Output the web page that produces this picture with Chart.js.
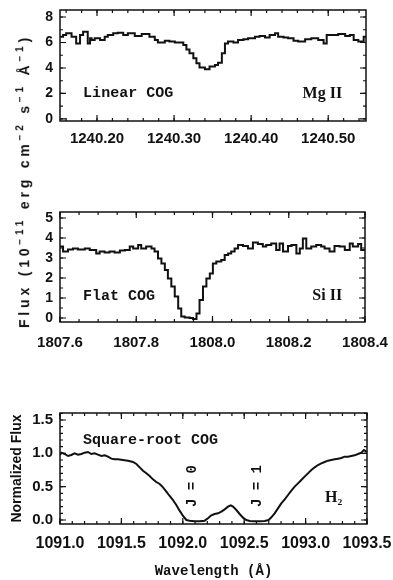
<!DOCTYPE html>
<html>
<head>
<meta charset="utf-8">
<script src="https://cdn.jsdelivr.net/npm/chart.js@4.4.1/dist/chart.umd.min.js"></script>
<style>
  body { margin: 0; background: #fff; }
  #page { position: relative; width: 393px; height: 580px; overflow: hidden; color: #111; }
  canvas { position: absolute; left: 0; }
  #mgChart { top: 0; }
  #siChart { top: 200px; }
  #h2Chart { top: 400px; }
  .fluxLabel {
    position: absolute; left: 23px; top: 181px;
    transform: translate(-50%, -50%) rotate(-90deg);
    white-space: nowrap;
    font: bold 14px "Liberation Sans", sans-serif;
    letter-spacing: 3.8px;
  }
  .fluxLabel sup { font-size: 10px; }
</style>
</head>
<body>
<div id="page">
  <canvas id="mgChart" width="393" height="160"></canvas>
  <canvas id="siChart" width="393" height="170"></canvas>
  <canvas id="h2Chart" width="393" height="180"></canvas>
  <div class="fluxLabel">Flux (10<sup>−11</sup> erg cm<sup>−2</sup> s<sup>−1</sup> Å<sup>−1</sup>)</div>
</div>
<script>
// Mg II, linear part of the curve of growth
const mgWave = [1240.152, 1240.156, 1240.160, 1240.167, 1240.173, 1240.178, 1240.182, 1240.188, 1240.191, 1240.193,
  1240.197, 1240.204, 1240.210, 1240.214, 1240.221, 1240.227, 1240.234, 1240.240, 1240.249, 1240.258,
  1240.268, 1240.275, 1240.279, 1240.288, 1240.294, 1240.301, 1240.312, 1240.316, 1240.320, 1240.325,
  1240.329, 1240.333, 1240.340, 1240.346, 1240.353, 1240.357, 1240.362, 1240.366, 1240.370, 1240.377,
  1240.383, 1240.390, 1240.396, 1240.405, 1240.411, 1240.418, 1240.424, 1240.431, 1240.435, 1240.442,
  1240.448, 1240.455, 1240.461, 1240.470, 1240.478, 1240.487, 1240.494, 1240.498, 1240.504, 1240.513,
  1240.522, 1240.528, 1240.533, 1240.539, 1240.546, 1240.549];
const mgFlux = [6.46, 6.59, 6.72, 6.46, 5.93, 6.59, 6.85, 5.93, 6.33, 6.20,
  6.33, 6.20, 6.46, 6.59, 6.72, 6.77, 6.59, 6.72, 6.51, 6.67,
  6.46, 6.20, 5.99, 6.14, 6.07, 5.99, 5.80, 5.46, 5.15, 4.76,
  4.37, 4.03, 3.90, 4.11, 4.24, 4.42, 5.15, 5.93, 6.07, 5.99,
  6.20, 6.25, 6.33, 6.46, 6.51, 6.40, 6.59, 6.72, 6.46, 6.40,
  6.33, 6.14, 6.07, 6.25, 6.33, 6.20, 5.93, 6.59, 6.59, 6.67,
  6.51, 6.59, 6.20, 6.07, 6.46, 6.46];
const mgTicksX = [1240.20, 1240.30, 1240.40, 1240.50];
const mgTicksY = [0, 2, 4, 6, 8];

// Si II, flat part
const siWave = [1807.600, 1807.608, 1807.621, 1807.634, 1807.647, 1807.665, 1807.678, 1807.695, 1807.704, 1807.717,
  1807.730, 1807.743, 1807.757, 1807.770, 1807.783, 1807.792, 1807.805, 1807.813, 1807.826, 1807.840,
  1807.848, 1807.857, 1807.866, 1807.875, 1807.883, 1807.892, 1807.901, 1807.910, 1807.918, 1807.927,
  1807.940, 1807.949, 1807.958, 1807.966, 1807.975, 1807.984, 1807.993, 1808.001, 1808.010, 1808.023,
  1808.032, 1808.041, 1808.049, 1808.058, 1808.067, 1808.080, 1808.093, 1808.106, 1808.119, 1808.132,
  1808.141, 1808.154, 1808.167, 1808.176, 1808.185, 1808.198, 1808.207, 1808.220, 1808.229, 1808.237,
  1808.246, 1808.259, 1808.272, 1808.285, 1808.294, 1808.307, 1808.320, 1808.333, 1808.347, 1808.360,
  1808.368, 1808.382, 1808.390, 1808.400];
const siFlux = [3.57, 3.32, 3.43, 3.48, 3.43, 3.48, 3.40, 3.23, 3.32, 3.27,
  3.32, 3.27, 3.37, 3.40, 3.57, 3.48, 3.65, 3.48, 3.57, 3.48,
  3.32, 2.98, 2.73, 2.40, 1.98, 1.57, 1.07, 0.48, 0.07, 0.02,
  0.00, -0.05, 0.23, 0.90, 1.57, 1.98, 2.23, 2.73, 2.82, 2.90,
  3.15, 3.23, 3.32, 3.48, 3.65, 3.60, 3.48, 3.77, 3.70, 3.57,
  3.65, 3.73, 3.40, 3.73, 3.32, 3.60, 3.65, 3.23, 3.48, 3.98,
  3.48, 3.57, 3.65, 3.57, 3.48, 3.32, 3.60, 3.57, 3.40, 3.73,
  3.57, 3.70, 3.40, 3.40];
const siTicksX = [1807.6, 1807.8, 1808.0, 1808.2, 1808.4];
const siTicksY = [0, 1, 2, 3, 4, 5];

// H2 J=0 and J=1, square-root part
const h2Wave = [1091.000, 1091.011, 1091.038, 1091.065, 1091.092, 1091.119, 1091.147, 1091.174, 1091.201, 1091.228,
  1091.255, 1091.282, 1091.309, 1091.337, 1091.364, 1091.391, 1091.418, 1091.445, 1091.472, 1091.513,
  1091.554, 1091.594, 1091.622, 1091.649, 1091.676, 1091.703, 1091.730, 1091.757, 1091.784, 1091.812,
  1091.839, 1091.866, 1091.893, 1091.920, 1091.947, 1091.974, 1092.002, 1092.029, 1092.056, 1092.097,
  1092.137, 1092.178, 1092.205, 1092.232, 1092.259, 1092.287, 1092.314, 1092.341, 1092.368, 1092.390,
  1092.409, 1092.436, 1092.463, 1092.490, 1092.517, 1092.545, 1092.585, 1092.626, 1092.667, 1092.699,
  1092.721, 1092.748, 1092.775, 1092.802, 1092.830, 1092.857, 1092.884, 1092.911, 1092.938, 1092.965,
  1092.992, 1093.019, 1093.047, 1093.074, 1093.101, 1093.128, 1093.155, 1093.182, 1093.209, 1093.237,
  1093.264, 1093.291, 1093.318, 1093.345, 1093.372, 1093.399, 1093.427, 1093.454, 1093.475, 1093.494,
  1093.500];
const h2Flux = [0.975, 1.01, 0.99, 0.96, 0.975, 1.00, 0.98, 0.99, 1.01, 1.02,
  0.99, 1.00, 0.98, 0.96, 0.97, 0.95, 0.92, 0.91, 0.91, 0.90,
  0.89, 0.87, 0.84, 0.79, 0.74, 0.70, 0.66, 0.61, 0.57, 0.54,
  0.49, 0.425, 0.36, 0.30, 0.225, 0.14, 0.06, 0.00, -0.01, -0.02,
  -0.02, -0.01, 0.025, 0.07, 0.09, 0.10, 0.125, 0.16, 0.20, 0.22,
  0.20, 0.15, 0.09, 0.035, 0.00, -0.015, -0.02, -0.02, -0.015, 0.00,
  0.04, 0.10, 0.175, 0.25, 0.31, 0.375, 0.44, 0.50, 0.55, 0.60,
  0.65, 0.70, 0.75, 0.79, 0.825, 0.85, 0.87, 0.89, 0.90, 0.91,
  0.92, 0.93, 0.95, 0.95, 0.96, 0.97, 0.99, 1.01, 1.05, 1.025,
  1.02];
const h2TicksX = [1091.0, 1091.5, 1092.0, 1092.5, 1093.0, 1093.5];
const h2TicksY = [0.0, 0.5, 1.0, 1.5];

const INK = '#111';
const monoFont = '"Liberation Mono", monospace';
const sansFont = '"Liberation Sans", sans-serif';
const serifFont = '"Liberation Serif", serif';

// box around the plot with small inward ticks on all four sides
const frameTicks = {
  id: 'frameTicks',
  afterDatasetsDraw(chart, args, opts) {
    const { ctx, chartArea: a, scales: { x, y } } = chart;
    ctx.save();
    ctx.strokeStyle = INK;
    ctx.lineWidth = 1.5;
    ctx.strokeRect(a.left, a.top, a.right - a.left, a.bottom - a.top);
    ctx.lineWidth = 1.2;
    const minorVals = (scale, step) => {
      const out = [];
      for (let k = Math.ceil(scale.min / step - 1e-6); k * step <= scale.max + 1e-9; k++) out.push(k * step);
      return out;
    };
    const xMark = (v, len) => {
      const px = x.getPixelForValue(v);
      ctx.beginPath();
      ctx.moveTo(px, a.bottom); ctx.lineTo(px, a.bottom - len);
      ctx.moveTo(px, a.top); ctx.lineTo(px, a.top + len);
      ctx.stroke();
    };
    const yMark = (v, len) => {
      const py = y.getPixelForValue(v);
      ctx.beginPath();
      ctx.moveTo(a.left, py); ctx.lineTo(a.left + len, py);
      ctx.moveTo(a.right, py); ctx.lineTo(a.right - len, py);
      ctx.stroke();
    };
    minorVals(x, opts.xMinor).forEach(v => xMark(v, 3));
    minorVals(y, opts.yMinor).forEach(v => yMark(v, 3));
    x.ticks.forEach(t => xMark(t.value, 6));
    y.ticks.forEach(t => yMark(t.value, 6));
    ctx.restore();
  }
};

// text written inside the plot, placed in data coordinates
const notes = {
  id: 'notes',
  afterDatasetsDraw(chart, args, opts) {
    const { ctx, scales: { x, y } } = chart;
    ctx.save();
    ctx.fillStyle = INK;
    ctx.textBaseline = 'middle';
    opts.items.forEach(n => {
      ctx.save();
      ctx.font = n.font;
      ctx.textAlign = n.align || 'left';
      ctx.translate(x.getPixelForValue(n.x), y.getPixelForValue(n.y));
      if (n.rotate) ctx.rotate(n.rotate);
      ctx.fillText(n.text, 0, 0);
      ctx.restore();
    });
    ctx.restore();
  }
};

function makePanel(id, p) {
  return new Chart(document.getElementById(id), {
    type: 'line',
    data: {
      datasets: [{
        data: p.xs.map((v, i) => ({ x: v, y: p.ys[i] })),
        borderColor: INK,
        borderWidth: 2,
        pointRadius: 0,
        stepped: p.stepped,
        tension: 0,
        fill: false
      }]
    },
    options: {
      responsive: false,
      animation: false,
      events: [],
      layout: { padding: { top: p.padTop, right: p.padRight, left: 0, bottom: 0 } },
      plugins: {
        legend: { display: false },
        tooltip: { enabled: false },
        frameTicks: { xMinor: p.xMinor, yMinor: p.yMinor },
        notes: { items: p.notes }
      },
      scales: {
        x: {
          type: 'linear',
          min: p.xMin, max: p.xMax,
          grid: { display: false, drawTicks: false },
          border: { display: false },
          afterBuildTicks: s => { s.ticks = p.xTicks.map(v => ({ value: v })); },
          afterFit: s => { s.height = p.xHeight; s.paddingLeft = 0; s.paddingRight = 0; },
          ticks: {
            autoSkip: false, maxRotation: 0, padding: p.xPad, color: INK,
            font: { family: sansFont, size: p.xFont, weight: 'bold' },
            callback: v => v.toFixed(p.xDec)
          },
          title: p.xTitle ? {
            display: true, text: p.xTitle, color: INK,
            font: { family: monoFont, size: 14, weight: 'bold' },
            padding: { top: 2, bottom: 0 }
          } : { display: false }
        },
        y: {
          type: 'linear',
          min: p.yMin, max: p.yMax,
          grid: { display: false, drawTicks: false },
          border: { display: false },
          afterBuildTicks: s => { s.ticks = p.yTicks.map(v => ({ value: v })); },
          afterFit: s => { s.width = 60; s.paddingTop = 0; s.paddingBottom = 0; },
          ticks: {
            padding: 7, color: INK,
            font: { family: sansFont, size: p.yFont, weight: 'bold' },
            callback: v => v.toFixed(p.yDec)
          },
          title: p.yTitle ? {
            display: true, text: p.yTitle, color: INK,
            font: { family: sansFont, size: 14, weight: 'bold' },
            padding: { top: 9, bottom: 0 }
          } : { display: false }
        }
      }
    },
    plugins: [frameTicks, notes]
  });
}

makePanel('mgChart', {
  xs: mgWave, ys: mgFlux, stepped: true,
  xMin: 1240.152, xMax: 1240.549, yMin: -0.16, yMax: 8.55,
  xTicks: mgTicksX, yTicks: mgTicksY, xDec: 2, yDec: 0,
  xMinor: 0.02, yMinor: 1,
  padTop: 10, padRight: 27, xHeight: 39, xPad: 9, xFont: 15, yFont: 14,
  notes: [
    { text: 'Linear COG', x: 1240.182, y: 2.0, font: 'bold 15px ' + monoFont },
    { text: 'Mg II', x: 1240.518, y: 2.0, align: 'right', font: 'bold 16px ' + serifFont }
  ]
});

makePanel('siChart', {
  xs: siWave, ys: siFlux, stepped: true,
  xMin: 1807.6, xMax: 1808.4, yMin: -0.2, yMax: 5.3,
  xTicks: siTicksX, yTicks: siTicksY, xDec: 1, yDec: 0,
  xMinor: 0.05, yMinor: 0.5,
  padTop: 12, padRight: 28, xHeight: 48, xPad: 12, xFont: 15, yFont: 14,
  notes: [
    { text: 'Flat COG', x: 1807.66, y: 1.1, font: 'bold 15px ' + monoFont },
    { text: 'Si II', x: 1808.34, y: 1.1, align: 'right', font: 'bold 16px ' + serifFont }
  ]
});

makePanel('h2Chart', {
  xs: h2Wave, ys: h2Flux, stepped: false,
  xMin: 1091.0, xMax: 1093.5, yMin: -0.06, yMax: 1.605,
  xTicks: h2TicksX, yTicks: h2TicksY, xDec: 1, yDec: 1,
  xMinor: 0.1, yMinor: 0.1,
  padTop: 13, padRight: 26, xHeight: 56, xPad: 10, xFont: 16, yFont: 15,
  xTitle: 'Wavelength (Å)', yTitle: 'Normalized Flux',
  notes: [
    { text: 'Square-root COG', x: 1091.187, y: 1.2, font: 'bold 15px ' + monoFont },
    { text: 'H₂', x: 1093.158, y: 0.33, font: 'bold 16px ' + serifFont },
    { text: 'J = 0', x: 1092.075, y: 0.51, align: 'center', rotate: -Math.PI / 2, font: 'bold 14px ' + monoFont },
    { text: 'J = 1', x: 1092.604, y: 0.51, align: 'center', rotate: -Math.PI / 2, font: 'bold 14px ' + monoFont }
  ]
});
</script>
</body>
</html>
